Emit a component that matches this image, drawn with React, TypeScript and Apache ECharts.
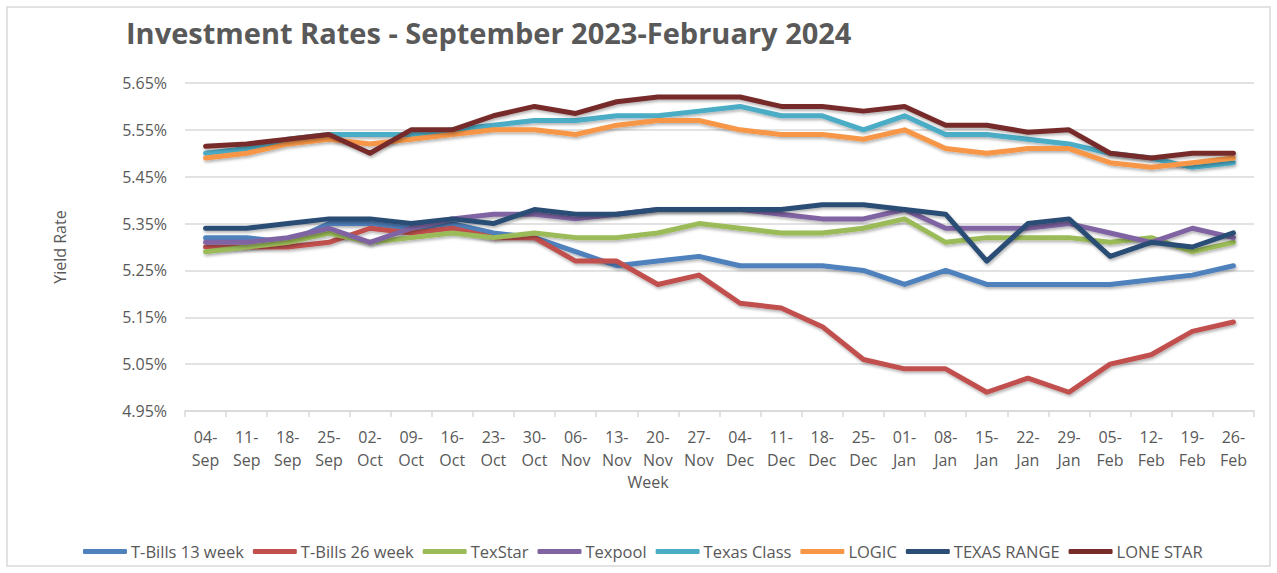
import React, { useEffect, useRef } from "react";
import * as echarts from "echarts";

const weeks = [
  "04-\nSep", "11-\nSep", "18-\nSep", "25-\nSep", "02-\nOct", "09-\nOct", "16-\nOct", "23-\nOct", "30-\nOct",
  "06-\nNov", "13-\nNov", "20-\nNov", "27-\nNov", "04-\nDec", "11-\nDec", "18-\nDec", "25-\nDec",
  "01-\nJan", "08-\nJan", "15-\nJan", "22-\nJan", "29-\nJan", "05-\nFeb", "12-\nFeb", "19-\nFeb", "26-\nFeb",
];

const tBills13 = [5.32, 5.32, 5.31, 5.35, 5.35, 5.34, 5.35, 5.33, 5.32, 5.29, 5.26, 5.27, 5.28, 5.26, 5.26, 5.26, 5.25, 5.22, 5.25, 5.22, 5.22, 5.22, 5.22, 5.23, 5.24, 5.26];
const tBills26 = [5.30, 5.30, 5.30, 5.31, 5.34, 5.33, 5.34, 5.32, 5.32, 5.27, 5.27, 5.22, 5.24, 5.18, 5.17, 5.13, 5.06, 5.04, 5.04, 4.99, 5.02, 4.99, 5.05, 5.07, 5.12, 5.14];
const texStar = [5.29, 5.30, 5.31, 5.33, 5.31, 5.32, 5.33, 5.32, 5.33, 5.32, 5.32, 5.33, 5.35, 5.34, 5.33, 5.33, 5.34, 5.36, 5.31, 5.32, 5.32, 5.32, 5.31, 5.32, 5.29, 5.31];
const texpool = [5.31, 5.31, 5.32, 5.34, 5.31, 5.34, 5.36, 5.37, 5.37, 5.36, 5.37, 5.38, 5.38, 5.38, 5.37, 5.36, 5.36, 5.38, 5.34, 5.34, 5.34, 5.35, 5.33, 5.31, 5.34, 5.32];
const texasClass = [5.50, 5.51, 5.53, 5.54, 5.54, 5.54, 5.55, 5.56, 5.57, 5.57, 5.58, 5.58, 5.59, 5.60, 5.58, 5.58, 5.55, 5.58, 5.54, 5.54, 5.53, 5.52, 5.50, 5.49, 5.47, 5.48];
const logic = [5.49, 5.50, 5.52, 5.53, 5.52, 5.53, 5.54, 5.55, 5.55, 5.54, 5.56, 5.57, 5.57, 5.55, 5.54, 5.54, 5.53, 5.55, 5.51, 5.50, 5.51, 5.51, 5.48, 5.47, 5.48, 5.49];
const texasRange = [5.34, 5.34, 5.35, 5.36, 5.36, 5.35, 5.36, 5.35, 5.38, 5.37, 5.37, 5.38, 5.38, 5.38, 5.38, 5.39, 5.39, 5.38, 5.37, 5.27, 5.35, 5.36, 5.28, 5.31, 5.30, 5.33];
const loneStar = [5.515, 5.52, 5.53, 5.54, 5.50, 5.55, 5.55, 5.58, 5.60, 5.585, 5.61, 5.62, 5.62, 5.62, 5.60, 5.60, 5.59, 5.60, 5.56, 5.56, 5.545, 5.55, 5.50, 5.49, 5.50, 5.50];

const seriesNames = ["T-Bills 13 week", "T-Bills 26 week", "TexStar", "Texpool", "Texas Class", "LOGIC", "TEXAS RANGE", "LONE STAR"];
const seriesValues = [tBills13, tBills26, texStar, texpool, texasClass, logic, texasRange, loneStar];
const seriesColors = ["#4F81BD", "#C0504D", "#9BBB59", "#8064A2", "#4BACC6", "#F79646", "#2C4D75", "#772C2A"];

const FONT = "'Open Sans', sans-serif";
const GREY = "#595959";

export default function App() {
  const ref = useRef<HTMLDivElement>(null);

  useEffect(() => {
    document.body.style.margin = "0";
    if (!ref.current) return;
    const chart = echarts.init(ref.current, undefined, { renderer: "svg" });
    chart.setOption({
      animation: false,
      backgroundColor: "#ffffff",
      textStyle: { fontFamily: FONT },
      title: {
        text: "Investment Rates - September 2023-February 2024",
        left: 121,
        top: 13,
        textStyle: { fontFamily: FONT, fontSize: 29, fontWeight: "bold", color: GREY },
      },
      graphic: [
        {
          type: "rect",
          shape: { x: 7, y: 7, width: 1263, height: 559 },
          style: { fill: "none", stroke: "#d9d9d9", lineWidth: 1.5 },
          silent: true,
        },
        {
          type: "text",
          x: 648,
          y: 482,
          style: { text: "Week", fontFamily: FONT, fontSize: 16, fill: GREY, align: "center", verticalAlign: "middle" },
          silent: true,
        },
        {
          type: "text",
          x: 60,
          y: 247,
          rotation: Math.PI / 2,
          style: { text: "Yield Rate", fontFamily: FONT, fontSize: 16, fill: GREY, align: "center", verticalAlign: "middle" },
          silent: true,
        },
      ],
      legend: {
        left: 78,
        top: 538,
        data: seriesNames,
        icon: "roundRect",
        itemWidth: 44,
        itemHeight: 5,
        itemGap: 9,
        textStyle: { fontFamily: FONT, fontSize: 16.5, color: GREY, padding: [0, 0, 0, -1] },
      },
      grid: { left: 185, right: 23, top: 83, bottom: 162, containLabel: false },
      xAxis: {
        type: "category",
        data: weeks,
        boundaryGap: true,
        axisLine: { show: true, lineStyle: { color: "#d9d9d9", width: 1.5 } },
        axisTick: { show: true, length: 6, lineStyle: { color: "#d9d9d9", width: 1.5 } },
        axisLabel: { fontFamily: FONT, fontSize: 16, color: GREY, margin: 14, lineHeight: 23, interval: 0 },
      },
      yAxis: {
        type: "value",
        min: 4.95,
        max: 5.65,
        interval: 0.1,
        axisLine: { show: false },
        axisTick: { show: false },
        splitLine: { show: true, lineStyle: { color: "#d9d9d9", width: 1.5 } },
        axisLabel: {
          fontFamily: FONT,
          fontSize: 16,
          color: GREY,
          margin: 18,
          formatter: (v: number) => v.toFixed(2) + "%",
        },
      },
      series: seriesNames.map((name, i) => ({
        name,
        type: "line",
        data: seriesValues[i],
        symbol: "none",
        color: seriesColors[i],
        lineStyle: {
          width: 5,
          color: seriesColors[i],
          cap: "round",
          join: "round",
          shadowColor: "rgba(0,0,0,0.3)",
          shadowBlur: 3,
          shadowOffsetX: 1,
          shadowOffsetY: 2,
        },
      })),
    });
    return () => chart.dispose();
  }, []);

  return <div ref={ref} style={{ width: 1277, height: 573 }} />;
}
